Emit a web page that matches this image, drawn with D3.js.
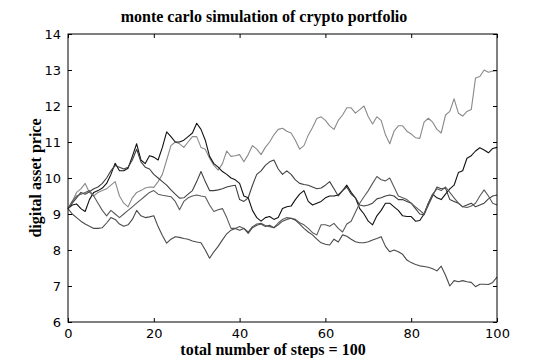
<!DOCTYPE html>
<html><head><meta charset="utf-8">
<script src="https://cdn.jsdelivr.net/npm/d3@7"></script>
<style>
html,body{margin:0;padding:0;background:#fff;}
svg{display:block;}
</style></head>
<body>
<script>
const steps = d3.range(0, 101);
const xTicks = [0, 20, 40, 60, 80, 100];
const yTicks = [6, 7, 8, 9, 10, 11, 12, 13, 14];
const titleText = "monte carlo simulation of crypto portfolio";
const xLabel = "total number of steps = 100";
const yLabel = "digital asset price";

const seriesA = [9.15,9.35,9.6,9.7,9.85,9.6,9.5,9.6,9.65,9.7,9.8,9.9,9.5,9.3,9.2,9.45,9.6,9.65,9.72,9.75,
9.74,9.9,10.1,10.5,10.9,11.0,10.95,10.85,11.0,11.15,11.15,10.85,10.8,10.55,10.35,10.22,10.4,10.75,10.6,10.62,
10.65,10.45,10.65,10.9,10.8,10.65,10.85,11.0,11.2,11.35,11.38,11.3,11.25,11.05,10.8,10.9,11.19,11.4,11.65,11.7,
11.6,11.45,11.35,11.6,11.75,11.95,11.95,11.8,11.9,12.0,11.7,11.5,11.7,11.6,11.2,10.95,11.3,11.45,11.45,11.3,
11.22,11.12,11.1,11.55,11.66,11.55,11.35,11.25,11.75,11.85,12.2,11.8,11.72,11.85,11.9,12.78,12.82,13.0,12.94,12.97,12.98];

const seriesB = [9.15,9.25,9.28,9.15,9.07,9.4,9.6,9.65,9.72,9.85,10.1,10.41,10.2,10.2,10.27,10.6,10.95,10.5,10.4,10.62,
10.58,10.5,10.85,11.28,11.15,11.0,11.0,11.05,11.15,11.25,11.52,11.35,11.05,10.6,10.4,10.3,10.18,10.1,10.0,9.95,
9.85,9.5,9.45,9.1,8.9,8.8,8.9,8.93,8.85,8.9,9.15,9.2,9.22,9.4,9.55,9.65,9.35,9.25,9.3,9.35,
9.45,9.5,9.5,9.53,9.65,9.8,9.6,9.45,9.15,9.0,8.8,8.7,8.95,9.1,9.3,9.3,9.2,9.1,8.95,8.93,
8.93,8.8,8.82,9.0,9.3,9.55,9.45,9.4,9.55,9.7,9.8,10.15,10.2,10.55,10.62,10.75,10.84,10.78,10.7,10.82,10.85];

const seriesC = [9.15,9.3,9.45,9.6,9.55,9.62,9.7,9.75,9.85,10.0,10.2,10.35,10.3,10.25,10.3,10.5,10.8,10.45,10.3,10.25,
10.1,10.0,9.9,9.8,9.67,9.55,9.44,9.45,9.55,9.65,9.9,10.18,9.9,9.65,9.65,9.67,9.7,9.75,9.78,9.8,
9.4,9.35,9.45,9.8,10.1,10.2,10.35,10.45,10.5,10.25,10.1,10.2,10.1,9.95,9.85,9.82,9.8,9.75,9.7,9.72,
9.8,9.9,9.7,9.5,9.65,9.75,9.55,9.45,9.25,9.22,9.25,9.3,9.42,9.45,9.5,9.53,9.5,9.4,9.4,9.35,
9.3,9.15,9.0,8.98,9.25,9.5,9.75,9.7,9.72,9.4,9.35,9.3,9.2,9.25,9.3,9.2,9.25,9.3,9.42,9.5,9.53];

const seriesD = [9.15,9.35,9.5,9.55,9.6,9.65,9.5,9.3,9.1,8.95,9.1,9.0,8.9,9.0,9.1,9.2,9.3,9.4,9.5,9.6,
9.65,9.55,9.52,9.5,9.48,9.35,9.12,9.35,9.45,9.5,9.53,9.5,9.48,9.25,9.07,9.12,9.15,8.9,8.6,8.6,
8.65,8.6,8.5,8.65,8.72,8.74,8.68,8.65,8.62,8.75,8.85,8.9,8.88,8.85,8.76,8.7,8.6,8.48,8.42,8.7,
8.7,8.66,8.74,8.6,8.5,8.72,8.8,9.05,9.3,9.48,9.65,9.85,10.04,9.95,9.92,10.0,9.75,9.5,9.45,9.4,
9.3,9.2,9.1,9.0,9.3,9.55,9.7,9.65,9.75,9.6,9.45,9.3,9.2,9.18,9.22,9.3,9.5,9.67,9.5,9.3,9.25];

const seriesE = [9.15,9.0,8.9,8.8,8.72,8.66,8.6,8.6,8.62,8.75,8.9,8.85,8.72,8.66,8.7,8.85,9.1,8.95,8.9,8.92,
8.95,8.65,8.4,8.19,8.3,8.37,8.35,8.32,8.3,8.25,8.22,8.2,8.0,7.77,7.95,8.1,8.28,8.45,8.55,8.6,
8.55,8.6,8.46,8.62,8.69,8.72,8.65,8.69,8.62,8.7,8.8,8.85,8.88,8.83,8.72,8.6,8.5,8.42,8.3,8.2,
8.16,8.14,8.3,8.22,8.42,8.38,8.3,8.23,8.2,8.2,8.23,8.28,8.32,8.37,8.1,7.95,8.0,7.95,7.88,7.72,
7.65,7.6,7.56,7.54,7.52,7.48,7.42,7.55,7.3,7.0,7.15,7.12,7.15,7.12,7.1,6.98,7.05,7.05,7.04,7.1,7.25];

const seriesList = [seriesA, seriesB, seriesC, seriesD, seriesE];
const seriesColors = ["#8a8a8a", "#111111", "#404040", "#5a5a5a", "#4a4a4a"];

const W = 550, H = 358;
const margin = {left: 68, right: 53, top: 34, bottom: 36};
const svg = d3.select("body").append("svg").attr("width", W).attr("height", H);

const x = d3.scaleLinear().domain([0, 100]).range([margin.left, W - margin.right]);
const y = d3.scaleLinear().domain([6, 14]).range([H - margin.bottom, margin.top]);

const line = d3.line().x((d, i) => x(steps[i])).y(d => y(d));

const plot = svg.append("g");
seriesList.forEach((s, k) => {
  plot.append("path").datum(s)
    .attr("fill", "none")
    .attr("stroke", seriesColors[k])
    .attr("stroke-width", 1.1)
    .attr("stroke-linejoin", "round")
    .attr("d", line);
});

// frame
svg.append("rect")
  .attr("x", x(0)).attr("y", y(14))
  .attr("width", x(100) - x(0)).attr("height", y(6) - y(14))
  .attr("fill", "none").attr("stroke", "#000").attr("stroke-width", 1);

const tickFont = "'DejaVu Sans', sans-serif";
const tl = 4;
// axes with inward ticks
const xAxisB = d3.axisBottom(x).tickValues(xTicks).tickSize(-tl).tickPadding(7).tickFormat(d3.format("d"));
const gx = svg.append("g").attr("transform", `translate(0,${y(6)})`).call(xAxisB);
const xAxisT = d3.axisTop(x).tickValues(xTicks).tickSize(-tl).tickFormat("");
const gxt = svg.append("g").attr("transform", `translate(0,${y(14)})`).call(xAxisT);
const yAxisL = d3.axisLeft(y).tickValues(yTicks).tickSize(-tl).tickPadding(7).tickFormat(d3.format("d"));
const gy = svg.append("g").attr("transform", `translate(${x(0)},0)`).call(yAxisL);
const yAxisR = d3.axisRight(y).tickValues(yTicks).tickSize(-tl).tickFormat("");
const gyr = svg.append("g").attr("transform", `translate(${x(100)},0)`).call(yAxisR);
[gx, gxt, gy, gyr].forEach(g => {
  g.select(".domain").remove();
  g.selectAll(".tick line").attr("stroke", "#000");
  g.selectAll("text").attr("font-family", tickFont).attr("font-size", 13).attr("fill", "#000");
});

svg.append("text").attr("x", 264).attr("y", 22).attr("text-anchor", "middle")
  .attr("font-family", "'Liberation Serif', serif").attr("font-weight", "bold").attr("font-size", 16)
  .text(titleText);
svg.append("text").attr("x", 273).attr("y", 355).attr("text-anchor", "middle")
  .attr("font-family", "'Liberation Serif', serif").attr("font-weight", "bold").attr("font-size", 16)
  .text(xLabel);
svg.append("text").attr("transform", `translate(41,${(y(6)+y(14))/2}) rotate(-90)`).attr("text-anchor", "middle")
  .attr("font-family", "'Liberation Serif', serif").attr("font-weight", "bold").attr("font-size", 16)
  .text(yLabel);
</script>
</body></html>
